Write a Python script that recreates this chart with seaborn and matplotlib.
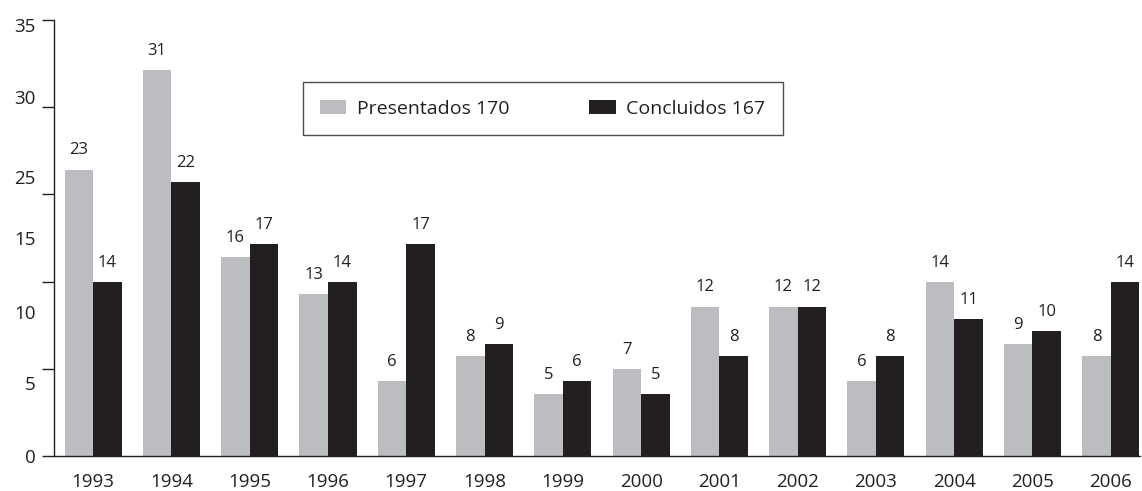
import pandas as pd
import matplotlib.pyplot as plt
import seaborn as sns

years = ["1993", "1994", "1995", "1996", "1997", "1998", "1999",
         "2000", "2001", "2002", "2003", "2004", "2005", "2006"]
presentados = [23, 31, 16, 13, 6, 8, 5, 7, 12, 12, 6, 14, 9, 8]
concluidos = [14, 22, 17, 14, 17, 9, 6, 5, 8, 12, 8, 11, 10, 14]
series_names = ["Presentados 170", "Concluidos 167"]
colors = ["#bcbdc0", "#231f20"]

# y axis labels as printed in the original (not evenly placed)
ylabels = ["5", "10", "15", "25", "30", "35"]
ylabel_pos = [5.9, 11.6, 17.5, 22.4, 28.8, 34.6]
ytick_marks = [0, 7, 14, 21, 28, 35]

df = pd.DataFrame({
    "year": years * 2,
    "value": presentados + concluidos,
    "serie": [series_names[0]] * len(years) + [series_names[1]] * len(years),
})

sns.set_style("white")
plt.rcParams["font.family"] = ["Open Sans", "DejaVu Sans"]

fig = plt.figure(figsize=(11.42, 4.91), dpi=100)
ax = fig.add_axes([0.0473, 0.0713, 0.9507, 0.8877])

sns.barplot(data=df, x="year", y="value", hue="serie", palette=colors,
            width=0.73, saturation=1, linewidth=0, ax=ax, legend=True)

for cont in ax.containers:
    ax.bar_label(cont, padding=8, fontsize=12, color="#231f20")

ax.set_xlim(-0.5, 13.37)
ax.set_ylim(0, 35)
ax.set_xlabel("")
ax.set_ylabel("")

ax.set_yticks(ytick_marks)
ax.set_yticklabels(["0"] + [""] * (len(ytick_marks) - 1))
ax.set_yticks(ylabel_pos, minor=True)
ax.set_yticklabels(ylabels, minor=True)
ax.tick_params(axis="y", which="major", left=True, length=8.5, width=1,
               color="#231f20", labelsize=13.5, labelcolor="#231f20", pad=4.5)
ax.tick_params(axis="y", which="minor", left=False, length=0, labelsize=13.5,
               labelcolor="#231f20", pad=13)
ax.tick_params(axis="x", bottom=False, labelsize=13.5, labelcolor="#231f20", pad=9)

for s in ["top", "right"]:
    ax.spines[s].set_visible(False)
for s in ["left", "bottom"]:
    ax.spines[s].set_color("#231f20")
    ax.spines[s].set_linewidth(1)

leg = ax.legend(loc="upper left", bbox_to_anchor=(0.229, 0.858), ncol=2,
                frameon=True, fancybox=False, edgecolor="#231f20", fontsize=14,
                handlelength=1.35, handleheight=0.75, handletextpad=0.55,
                columnspacing=4.1, borderpad=0.9, borderaxespad=0)
leg.get_frame().set_linewidth(1)
for t in leg.get_texts():
    t.set_color("#231f20")

fig.savefig("out.png", dpi=100)
